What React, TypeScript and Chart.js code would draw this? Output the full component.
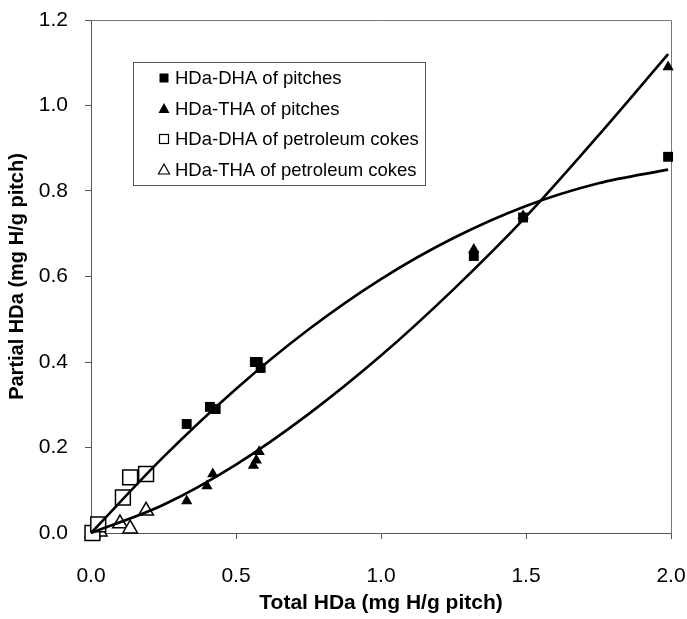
import { useEffect, useRef } from "react";
import { Chart, registerables } from "chart.js";
Chart.register(...registerables);

// Measured points
const pitchDhaX = [0.33, 0.41, 0.43, 0.565, 0.575, 0.585, 1.32, 1.49, 1.99];
const pitchDhaY = [0.255, 0.295, 0.29, 0.4, 0.4, 0.386, 0.648, 0.738, 0.88];
const pitchThaX = [0.33, 0.4, 0.42, 0.56, 0.57, 0.58, 1.32, 1.49, 1.99];
const pitchThaY = [0.075, 0.11, 0.138, 0.158, 0.17, 0.19, 0.663, 0.742, 1.09];
const cokeDhaX = [0.005, 0.025, 0.11, 0.135, 0.19];
const cokeDhaY = [0.0, 0.02, 0.083, 0.13, 0.138];
const cokeThaX = [0.005, 0.02, 0.03, 0.1, 0.135, 0.19];
const cokeThaY = [0.0, 0.005, 0.003, 0.022, 0.01, 0.052];

// Trend curves
const dhaFitX = [0, 0.25, 0.5, 0.75, 1.0, 1.25, 1.5, 1.75, 1.99];
const dhaFitY = [0, 0.178, 0.337, 0.476, 0.594, 0.69, 0.765, 0.818, 0.85];
const thaFitX = [0, 0.25, 0.5, 0.75, 1.0, 1.25, 1.5, 1.75, 1.99];
const thaFitY = [0, 0.066, 0.16, 0.278, 0.415, 0.57, 0.74, 0.93, 1.12];

const seriesLabels = [
  "HDa-DHA of pitches",
  "HDa-THA of pitches",
  "HDa-DHA of petroleum cokes",
  "HDa-THA of petroleum cokes",
];

const xTicks = [0, 0.5, 1.0, 1.5, 2.0];
const yTicks = [0, 0.2, 0.4, 0.6, 0.8, 1.0, 1.2];

const FONT = "'Liberation Sans', Arial, sans-serif";

const zip = (xs: number[], ys: number[]) => xs.map((x, i) => ({ x, y: ys[i] }));

const framePlugin = {
  id: "frame",
  beforeDatasetsDraw(chart: any) {
    const ctx = chart.ctx as CanvasRenderingContext2D;
    const ca = chart.chartArea;
    ctx.save();
    ctx.strokeStyle = "#777";
    ctx.lineWidth = 1;
    ctx.beginPath();
    ctx.moveTo(Math.round(ca.left) + 0.5, Math.round(ca.top) + 0.5);
    ctx.lineTo(Math.round(ca.right) + 0.5, Math.round(ca.top) + 0.5);
    ctx.lineTo(Math.round(ca.right) + 0.5, Math.round(ca.bottom) + 0.5);
    ctx.stroke();
    ctx.restore();
  },
};

const legendPlugin = {
  id: "boxLegend",
  afterDraw(chart: any) {
    const ctx = chart.ctx as CanvasRenderingContext2D;
    const ca = chart.chartArea;
    const left = ca.left + 42;
    const top = ca.top + 42;
    const w = 292;
    const h = 123;
    ctx.save();
    ctx.fillStyle = "#fff";
    ctx.fillRect(left, top, w, h);
    ctx.strokeStyle = "#555";
    ctx.lineWidth = 1;
    ctx.strokeRect(left + 0.5, top + 0.5, w, h);
    ctx.font = `18.5px ${FONT}`;
    ctx.textBaseline = "middle";
    ctx.textAlign = "left";
    seriesLabels.forEach((label, i) => {
      const cy = top + 16 + i * 30.5;
      const mx = left + 31;
      ctx.fillStyle = "#000";
      ctx.strokeStyle = "#000";
      ctx.lineWidth = 1.2;
      const s = 4.5;
      if (i === 0) {
        ctx.fillRect(mx - s, cy - s, 2 * s, 2 * s);
      } else if (i === 2) {
        ctx.strokeRect(mx - s, cy - s, 2 * s, 2 * s);
      } else {
        ctx.beginPath();
        ctx.moveTo(mx, cy - 5.5);
        ctx.lineTo(mx + 5.5, cy + 4.5);
        ctx.lineTo(mx - 5.5, cy + 4.5);
        ctx.closePath();
        if (i === 1) ctx.fill();
        else ctx.stroke();
      }
      ctx.fillStyle = "#000";
      ctx.fillText(label, left + 42, cy + 1);
    });
    ctx.restore();
  },
};

export default function App() {
  const ref = useRef<HTMLCanvasElement | null>(null);
  useEffect(() => {
    if (!ref.current) return;
    const chart = new Chart(ref.current, {
      type: "scatter",
      data: {
        datasets: [
          {
            label: "DHA fit",
            data: zip(dhaFitX, dhaFitY),
            showLine: true,
            borderColor: "#000",
            borderWidth: 2.6,
            pointRadius: 0,
            cubicInterpolationMode: "monotone",
            clip: false,
          } as any,
          {
            label: "THA fit",
            data: zip(thaFitX, thaFitY),
            showLine: true,
            borderColor: "#000",
            borderWidth: 2.6,
            pointRadius: 0,
            cubicInterpolationMode: "monotone",
            clip: false,
          } as any,
          {
            label: seriesLabels[0],
            data: zip(pitchDhaX, pitchDhaY),
            pointStyle: "rect",
            pointRadius: 7,
            backgroundColor: "#000",
            borderColor: "#000",
            borderWidth: 0,
            clip: false,
          } as any,
          {
            label: seriesLabels[1],
            data: zip(pitchThaX, pitchThaY),
            pointStyle: "triangle",
            pointRadius: 6.5,
            backgroundColor: "#000",
            borderColor: "#000",
            borderWidth: 0,
            clip: false,
          } as any,
          {
            label: seriesLabels[2],
            data: zip(cokeDhaX, cokeDhaY),
            pointStyle: "rect",
            pointRadius: 10.5,
            backgroundColor: "#fff",
            borderColor: "#000",
            borderWidth: 1.5,
            clip: false,
          } as any,
          {
            label: seriesLabels[3],
            data: zip(cokeThaX, cokeThaY),
            pointStyle: "triangle",
            pointRadius: 8.5,
            backgroundColor: "#fff",
            borderColor: "#000",
            borderWidth: 1.5,
            clip: false,
          } as any,
        ],
      },
      options: {
        animation: false,
        responsive: true,
        maintainAspectRatio: false,
        layout: { padding: { left: 5, right: 16, top: 20, bottom: 3 } },
        plugins: {
          legend: { display: false },
          tooltip: { enabled: false },
        },
        scales: {
          x: {
            type: "linear",
            min: 0,
            max: 2,
            afterBuildTicks: (s: any) => {
              s.ticks = xTicks.map((v) => ({ value: v }));
            },
            afterFit: (s: any) => {
              s.height = 83;
              s.paddingLeft = 0;
              s.paddingRight = 0;
            },
            ticks: {
              font: { family: FONT, size: 21 },
              color: "#000",
              padding: 25,
              callback: (v: any) => Number(v).toFixed(1),
            },
            grid: {
              drawOnChartArea: false,
              tickLength: 6,
              color: "#555",
            },
            border: { color: "#555", width: 1 },
            title: {
              display: true,
              text: "Total HDa (mg H/g pitch)",
              font: { family: FONT, size: 21, weight: "bold" },
              color: "#000",
              padding: { top: 4, bottom: 0 },
            },
          },
          y: {
            type: "linear",
            min: 0,
            max: 1.2,
            afterBuildTicks: (s: any) => {
              s.ticks = yTicks.map((v) => ({ value: v }));
            },
            afterFit: (s: any) => {
              s.width = 86;
              s.paddingTop = 0;
              s.paddingBottom = 0;
            },
            ticks: {
              font: { family: FONT, size: 21 },
              color: "#000",
              padding: 17,
              callback: (v: any) => Number(v).toFixed(1),
            },
            grid: {
              drawOnChartArea: false,
              tickLength: 6,
              color: "#555",
            },
            border: { color: "#555", width: 1 },
            title: {
              display: true,
              text: "Partial HDa (mg H/g pitch)",
              font: { family: FONT, size: 20, weight: "bold" },
              color: "#000",
              padding: { top: 0, bottom: 9 },
            },
          },
        },
      },
      plugins: [framePlugin, legendPlugin],
    });
    return () => chart.destroy();
  }, []);
  return (
    <div
      style={{
        position: "fixed",
        left: 0,
        top: 0,
        width: 687,
        height: 619,
        background: "#fff",
      }}
    >
      <canvas ref={ref} />
    </div>
  );
}
